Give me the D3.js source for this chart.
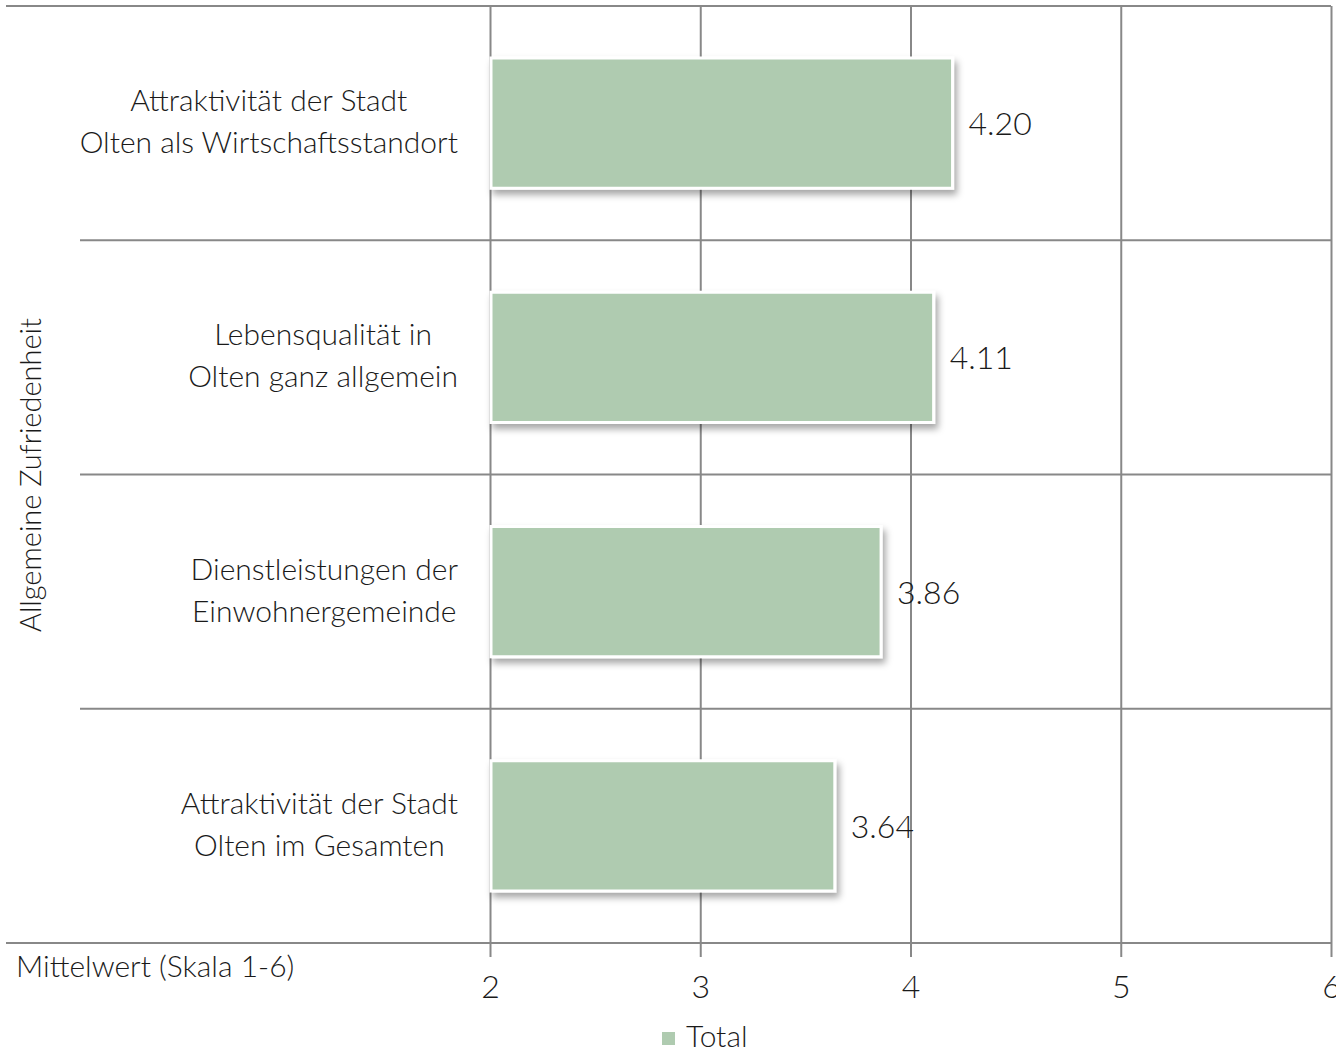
<!DOCTYPE html>
<html><head><meta charset="utf-8">
<script src="https://cdn.jsdelivr.net/npm/d3@7"></script>
<style>
html,body{margin:0;padding:0;background:#fff;}
svg{display:block;}
text{font-family:"Lato","Open Sans",sans-serif;font-weight:300;fill:#1a1a1a;}
</style></head>
<body>
<svg id="chart" width="1336" height="1050"></svg>
<script>
const categories = [
  ["Attraktivität der Stadt", "Olten als Wirtschaftsstandort"],
  ["Lebensqualität in", "Olten ganz allgemein"],
  ["Dienstleistungen der", "Einwohnergemeinde"],
  ["Attraktivität der Stadt", "Olten im Gesamten"]
];
const values = [4.20, 4.11, 3.86, 3.64];
const valueLabels = ["4.20", "4.11", "3.86", "3.64"];
const xTicks = [2, 3, 4, 5, 6];
const seriesName = "Total";
const yTitle = "Allgemeine Zufriedenheit";
const xTitle = "Mittelwert (Skala 1-6)";

const svg = d3.select("#chart");
const gridColor = "#888888";
const barColor = "#afcbb0";

const x = d3.scaleLinear().domain([2, 6]).range([490, 1331]);
const y = d3.scaleBand().domain(d3.range(categories.length)).range([6, 943]).padding(0);
const step = y.step();
const barH = step * 0.556;

const defs = svg.append("defs");
const f = defs.append("filter").attr("id","shadow").attr("x","-10%").attr("y","-20%").attr("width","130%").attr("height","150%");
f.append("feDropShadow").attr("dx",3).attr("dy",5).attr("stdDeviation",3.5).attr("flood-color","#000").attr("flood-opacity",0.35);

// vertical gridlines with ticks
const xAxis = d3.axisBottom(x).tickValues(xTicks).tickSize(947 - 6 + 10).tickFormat(d3.format("d"));
const gx = svg.append("g").attr("transform","translate(0,6)").call(xAxis);
gx.select(".domain").remove();
gx.selectAll(".tick line").attr("stroke", gridColor).attr("stroke-width", 2);
gx.selectAll(".tick text").attr("y", 0).attr("dy", 0)
  .attr("transform", "translate(0,992)")
  .style("font-size","32px").style("font-family","Lato, sans-serif").style("font-weight",300).attr("fill","#1a1a1a");

// horizontal row boundaries
const bounds = d3.range(categories.length + 1).map(i => i < categories.length ? y(i) : y(categories.length-1) + step);
svg.append("g").selectAll("line").data(bounds).join("line")
  .attr("x1", (d,i) => (i === 0 || i === bounds.length-1) ? 6 : 80)
  .attr("x2", x(6))
  .attr("y1", d => d).attr("y2", d => d)
  .attr("stroke", gridColor).attr("stroke-width", 2);

// bars
svg.append("g").selectAll("rect").data(values).join("rect")
  .attr("x", x(2) + 1)
  .attr("y", (d,i) => y(i) + (step - barH)/2)
  .attr("width", d => x(d) - x(2) - 1)
  .attr("height", barH)
  .attr("fill", barColor)
  .attr("stroke", "#fff").attr("stroke-width", 3)
  .attr("filter", "url(#shadow)");

// value labels
svg.append("g").selectAll("text").data(values).join("text")
  .attr("x", d => x(d) + 16)
  .attr("y", (d,i) => y(i) + step/2 + 12)
  .style("font-size","32px")
  .text((d,i) => valueLabels[i]);

// category labels
const labG = svg.append("g");
categories.forEach((lines, i) => {
  const g = labG.append("g");
  const cy = y(i) + step/2;
  const texts = lines.map((t, k) => g.append("text")
    .attr("text-anchor","middle")
    .attr("y", cy - 21 + 9 + k*42)
    .style("font-size","30px")
    .text(t));
  const w = d3.max(texts, t => t.node().getComputedTextLength());
  texts.forEach(t => t.attr("x", 458 - w/2));
});

// y title
svg.append("text")
  .attr("transform", "translate(41,475) rotate(-90)")
  .attr("text-anchor","middle")
  .style("font-size","29px")
  .text(yTitle);

// x title
svg.append("text").attr("x", 16).attr("y", 977).style("font-size","30px").text(xTitle);

// legend
svg.append("rect").attr("x", 662).attr("y", 1032).attr("width", 13).attr("height", 13).attr("fill", barColor);
svg.append("text").attr("x", 686).attr("y", 1047).style("font-size","30px").text(seriesName);
</script>
</body></html>
